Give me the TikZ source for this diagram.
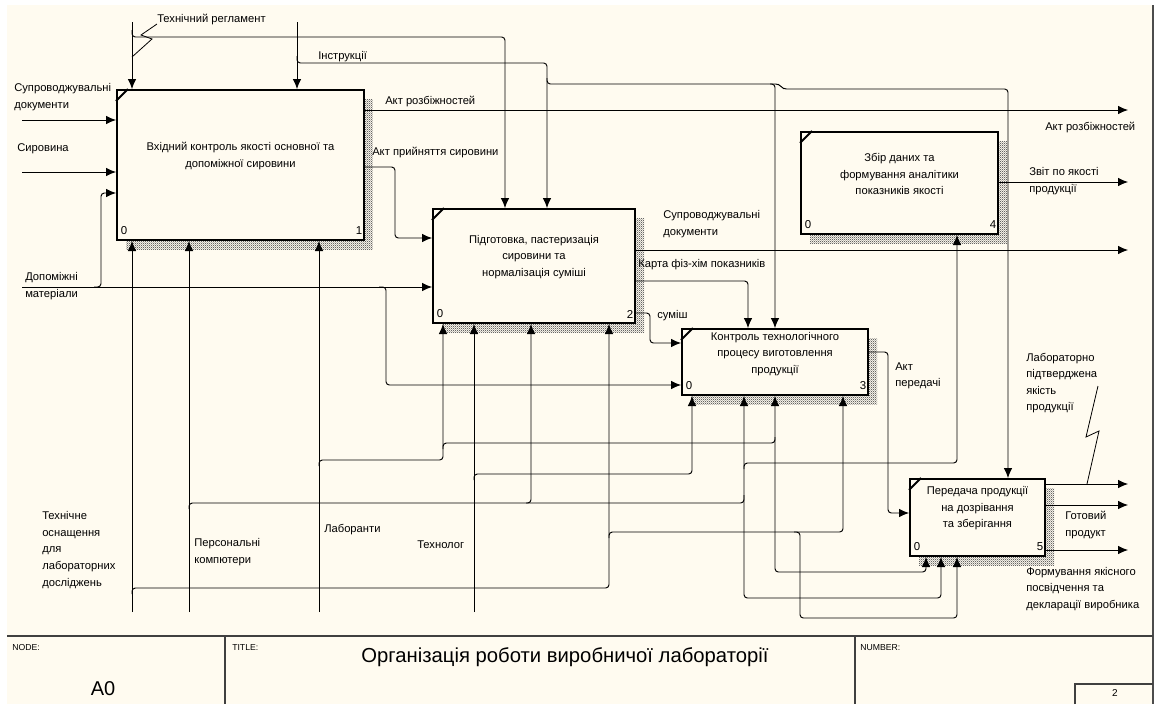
\documentclass[tikz,border=0pt]{standalone}
\usepackage{fontspec}
\setmainfont{Liberation Sans}
\usetikzlibrary{arrows.meta,patterns}
\newlength\pxu
\setlength\pxu{0.75pt}
\definecolor{paper}{RGB}{255,251,240}
\pgfdeclarepatternformonly{finecheck}{\pgfqpoint{0pt}{0pt}}{\pgfqpoint{1.6pt}{1.6pt}}{\pgfqpoint{1.6pt}{1.6pt}}{
  \pgfpathrectangle{\pgfqpoint{0pt}{0pt}}{\pgfqpoint{0.8pt}{0.8pt}}
  \pgfpathrectangle{\pgfqpoint{0.8pt}{0.8pt}}{\pgfqpoint{0.8pt}{0.8pt}}
  \pgfusepath{fill}}

\tikzset{
  box/.style={draw, line width=1.5pt, fill=paper, inner sep=0pt, anchor=north west},
  boxtext/.style={align=center, font=\fontsize{8.4}{12.4}\selectfont, inner sep=0pt},
  lbl/.style={align=left, font=\fontsize{8.4}{12.4}\selectfont, inner sep=0pt, anchor=west},
  idx/.style={font=\fontsize{8.6}{10}\selectfont, inner sep=0pt},
  arr/.style={->, line width=0.7pt, rounded corners=2.5pt},
  squig/.style={line width=0.6pt},
  shadowfill/.style={pattern=finecheck, pattern color=black!60},
  tiny/.style={font=\fontsize{6.5}{8}\selectfont, inner sep=0pt, anchor=west},
}

\begin{document}
\begin{tikzpicture}[x=0.75pt, y=-0.75pt, >={Latex[length=7.5pt,width=6.5pt]}]
  \useasboundingbox (0,0) rectangle (1157,704);
  \fill[paper] (7,5) rectangle (1153,704);
  \draw[black!70, line width=1pt] (1153,5) -- (1153,704);

  % Shadows of the blocks
  \foreach \x/\y/\w/\h in {116/89/247/150, 432/208/202/114, 681/328/186/66, 800/131/197/102, 909/478/135/77}
    \fill[shadowfill] (\x+10,\y+10) rectangle (\x+\w+10,\y+\h+10);

  % Define blocks
  \node[box, minimum width=247\pxu, minimum height=150\pxu] (B1) at (116,89) {};
  \node[box, minimum width=202\pxu, minimum height=114\pxu] (B2) at (432,208) {};
  \node[box, minimum width=186\pxu, minimum height=66\pxu] (B3) at (681,328) {};
  \node[box, minimum width=197\pxu, minimum height=102\pxu] (B4) at (800,131) {};
  \node[box, minimum width=135\pxu, minimum height=77\pxu] (B5) at (909,478) {};

  \node[boxtext] (B1txt) at ([shift={(0,-9)}]B1.center) {Вхідний контроль якості основної та\\допоміжної сировини};
  \node[boxtext] (B2txt) at ([shift={(0,-9)}]B2.center) {Підготовка, пастеризація\\сировини та\\нормалізація суміші};
  \node[boxtext] (B3txt) at ([shift={(0,-8)}]B3.center) {Контроль технологічного\\процесу виготовлення\\продукції};
  \node[boxtext] (B4txt) at ([shift={(0,-9)}]B4.center) {Збір даних та\\формування аналітики\\показників якості};
  \node[boxtext] (B5txt) at ([shift={(0,-9)}]B5.center) {Передача продукції\\на дозрівання\\та зберігання};

  \foreach \b/\n in {B1/1,B2/2,B3/3,B4/4,B5/5} {
    \draw[line width=1.5pt] ([shift={(0,12)}]\b.north west) -- ([shift={(12,0)}]\b.north west);
    \node[idx] (\b-zero) at ([shift={(8,-10)}]\b.south west) {0};
    \node[idx] (\b-num) at ([shift={(-6,-10)}]\b.south east) {\n};
  }

  % Free ends
  \coordinate (inDoc) at (22,120);
  \coordinate (inRaw) at (22,172);
  \coordinate (inAux) at (22,287);
  \coordinate (ctlReg) at (132,22);
  \coordinate (ctlIns) at (297,22);
  \coordinate (outDisc) at (1128,110);
  \coordinate (outRep) at (1128,182);
  \coordinate (outDoc) at (1128,250);
  \coordinate (outLab) at (1128,484);
  \coordinate (outProd) at (1128,505);
  \coordinate (outCert) at (1128,550);
  \coordinate (mTech) at (132,612);
  \coordinate (mPC) at (189,612);
  \coordinate (mLab) at (319,612);
  \coordinate (mTechn) at (474,612);

  % Inputs
  \draw[arr] (inDoc) -- (inDoc -| B1.west);
  \draw[arr] (inRaw) -- (inRaw -| B1.west);
  \draw[arr] (inAux) -- (inAux -| B2.west);
  \draw[arr] (94,287) -| (101,193) -- (B1.west |- 0,193);
  \draw[arr] (379,287) -| (386,385) -- (B3.west |- 0,385);

  % Controls
  \draw[arr] (ctlReg) -- (ctlReg |- B1.north);
  \draw[arr] (132,30) |- (505,37) -- (505,0 |- B2.north);
  \draw[arr] (ctlIns) -- (ctlIns |- B1.north);
  \draw[arr] (297,56) |- (547,63) -- (547,0 |- B2.north);
  \draw[arr] (547,78) |- (775,84) -- (775,0 |- B3.north);
  \draw[arr] (770,84) -- (779,84) -- (783,89) -| (1008,0 |- B5.north);
  \draw[squig] (157,24) -- (141,35) -- (152,39) -- (132,57);

  % Outputs
  \draw[arr] (B1.east |- outDisc) -- (outDisc);
  \draw[arr] (B1.east |- 0,167) -| (395,238) -- (B2.west |- 0,238);
  \draw[arr] (B2.east |- outDoc) -- (outDoc);
  \draw[arr] (B2.east |- 0,281) -| (748,0 |- B3.north);
  \draw[arr] (B2.east |- 0,313) -| (650,343) -- (B3.west |- 0,343);
  \draw[arr] (B3.east |- 0,352) -| (888,513) -- (B5.west |- 0,513);
  \draw[arr] (B4.east |- outRep) -- (outRep);
  \draw[arr] (B5.east |- outLab) -- (outLab);
  \draw[arr] (B5.east |- outProd) -- (outProd);
  \draw[arr] (B5.east |- outCert) -- (outCert);
  \draw[squig] (1098,386) -- (1086,437) -- (1099,431) -- (1087,484);

  % Mechanisms
  \draw[arr] (mTech) -- (mTech |- B1.south);
  \draw[arr] (132,594) |- (609,588) -- (609,0 |- B2.south);
  \draw[arr] (609,538) |- (843,532) -- (843,0 |- B3.south);
  \draw[arr] (794,532) -| (800,618) -| (957,0 |- B5.south);
  \draw[arr] (mPC) -- (mPC |- B1.south);
  \draw[arr] (189,509) |- (531,503) -- (531,0 |- B2.south);
  \draw[arr] (526,503) -| (744,0 |- B3.south);
  \draw[arr] (744,495) |- (941,598) -- (941,0 |- B5.south);
  \draw[arr] (744,469) |- (957,463) -- (957,0 |- B4.south);
  \draw[arr] (mLab) -- (mLab |- B1.south);
  \draw[arr] (319,466) |- (443,460) -- (443,0 |- B2.south);
  \draw[arr] (443,449) |- (775,443) -- (775,0 |- B3.south);
  \draw[arr] (775,437) |- (926,572) -- (926,0 |- B5.south);
  \draw[arr] (mTechn) -- (mTechn |- B2.south);
  \draw[arr] (474,480) |- (692,474) -- (692,0 |- B3.south);

  % Arrow labels
  \node[lbl] (lDoc) at (14,97) {Супроводжувальні\\документи};
  \node[lbl] (lRaw) at (17,149) {Сировина};
  \node[lbl] (lAux) at (25,286) {Допоміжні\\матеріали};
  \node[lbl] (lReg) at (157,20) {Технічний регламент};
  \node[lbl] (lIns) at (318,57) {Інструкції};
  \node[lbl] (lDisc) at (385,102) {Акт розбіжностей};
  \node[lbl] (lAcc) at (372,152) {Акт прийняття сировини};
  \node[lbl] (lDoc2) at (663,224) {Супроводжувальні\\документи};
  \node[lbl] (lCard) at (638,265) {Карта фіз-хім показників};
  \node[lbl] (lMix) at (657,316) {суміш};
  \node[lbl] (lAct) at (895,376) {Акт\\передачі};
  \node[lbl] (lDisc2) at (1045,127) {Акт розбіжностей};
  \node[lbl] (lRep) at (1029,181) {Звіт по якості\\продукції};
  \node[lbl] (lLab) at (1026,383) {Лабораторно\\підтверджена\\якість\\продукції};
  \node[lbl] (lProd) at (1065,525) {Готовий\\продукт};
  \node[lbl] (lCert) at (1026,589) {Формування якісного\\посвідчення та\\декларації виробника};
  \node[lbl] (lTech) at (42,550) {Технічне\\оснащення\\для\\лабораторних\\досліджень};
  \node[lbl] (lPC) at (194,552) {Персональні\\компютери};
  \node[lbl] (lLabs) at (324,530) {Лаборанти};
  \node[lbl] (lTechn) at (417,545) {Технолог};

  % Title block
  \draw[black!75, line width=1.2pt] (7,636) -- (1153,636);
  \draw[black!75, line width=1.2pt] (225,636) -- (225,704);
  \draw[black!75, line width=1.2pt] (855,636) -- (855,704);
  \draw[black!75, line width=1.2pt] (1075,704) |- (1153,684);
  \node[tiny] (tNode) at (12,648) {NODE:};
  \node[tiny] (tTitle) at (232,648) {TITLE:};
  \node[tiny] (tNum) at (860,648) {NUMBER:};
  \node[font=\fontsize{15}{17}\selectfont, inner sep=0pt] (tA0) at (103,689) {A0};
  \node[font=\fontsize{15.2}{17}\selectfont, inner sep=0pt] (tMain) at (565,657) {Організація роботи виробничої лабораторії};
  \node[font=\fontsize{7.5}{9}\selectfont, inner sep=0pt] (tPage) at (1115,693) {2};
\end{tikzpicture}
\end{document}
